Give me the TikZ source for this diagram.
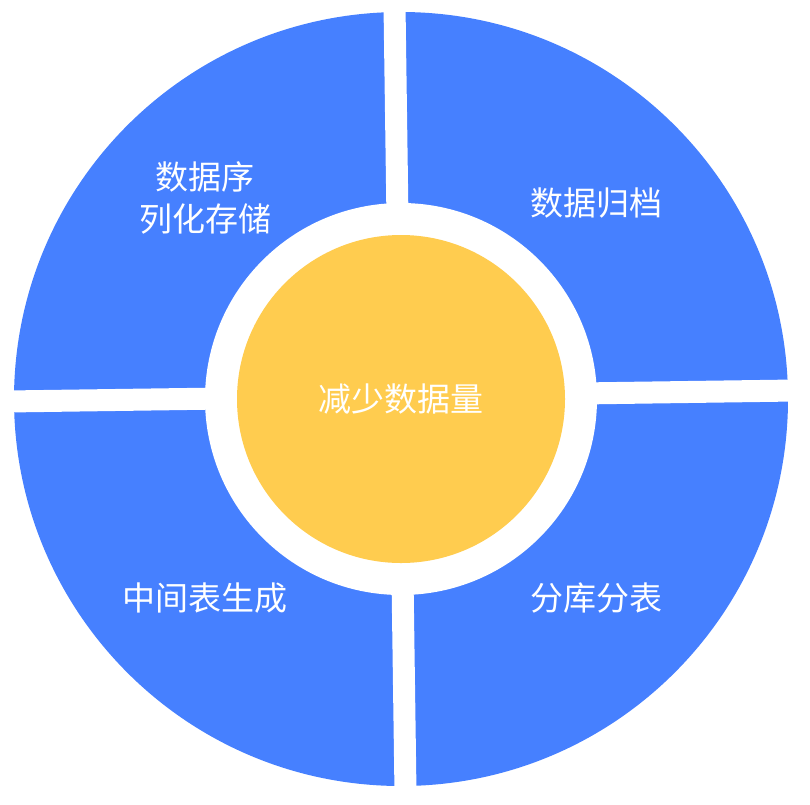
\documentclass[tikz,border=0pt]{standalone}
\usepackage{fontspec}
\newfontfamily\cjk{Noto Sans CJK SC}
\definecolor{qblue}{HTML}{4680FF}
\definecolor{qyellow}{HTML}{FFCC4F}
\begin{document}
\begin{tikzpicture}[x=1pt,y=-1pt,
  lbl/.style={text=white,font=\cjk\fontsize{33}{42}\selectfont,align=center}]
\useasboundingbox[fill=white] (0,0) rectangle (810,804);
\coordinate (c) at (401,399);
\fill[qblue] (c) circle[radius=387];
\begin{scope}[rotate around={0.8:(c)}]
\fill[white] (389,0) rectangle (411,804);
\fill[white] (0,385) rectangle (810,407);
\end{scope}
\fill[white] (c) circle[radius=196];
\node[circle,fill=qyellow,minimum size=328,inner sep=0,lbl] (mid) at (c) {减少数据量};
\node[lbl] (tl) at (205,198) {数据序\\列化存储};
\node[lbl] (tr) at (596,203) {数据归档};
\node[lbl] (bl) at (205,598) {中间表生成};
\node[lbl] (br) at (596,598) {分库分表};
\end{tikzpicture}
\end{document}
